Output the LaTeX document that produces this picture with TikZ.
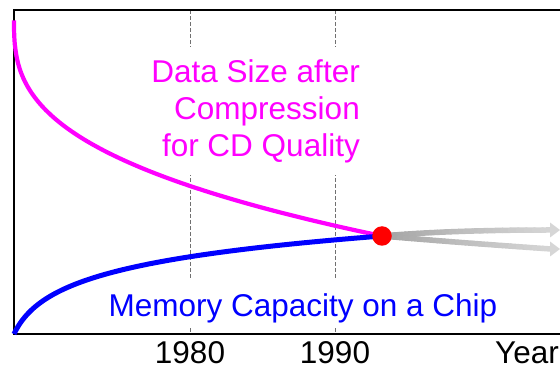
\documentclass[tikz,border=0pt]{standalone}
\usepackage{fontspec}
\setmainfont{Liberation Sans}
\definecolor{mag}{HTML}{FF00FF}
\definecolor{blu}{HTML}{0000FF}
\definecolor{dotred}{HTML}{FF0000}
\definecolor{gridgray}{HTML}{707070}
\begin{document}
\begin{tikzpicture}[x=1pt,y=-1pt,
  frame/.style={line width=2.6pt,black},
  gridline/.style={gridgray,line width=1pt,dash pattern=on 4pt off 2pt},
  lbl/.style={font=\fontsize{31.5}{37}\selectfont},
  boxlbl/.style={lbl,fill=white,inner xsep=4pt},
  magcurve/.style={mag,line width=4.2pt},
  blucurve/.style={blu,line width=5pt},
  dotstyle/.style={circle,fill=dotred,minimum size=19.5pt,inner sep=0pt}]
\useasboundingbox (0,0) rectangle (560,371);
% dashed year lines
\coordinate (g80t) at (190,10);
\coordinate (g80b) at (190,334);
\coordinate (g90t) at (335,10);
\coordinate (g90b) at (335,334);
\draw[gridline] (g80t) -- (g80b);
\draw[gridline] (g90t) -- (g90b);
% labels with white background
\node[boxlbl,text=mag,align=right,anchor=north east,inner ysep=12pt] (data) at (364,47)
  {Data Size after\\Compression\\for CD Quality};
\node[boxlbl,text=blu,anchor=base,text height=30pt,text depth=4pt,inner ysep=7pt] (mem) at (303,317)
  {Memory Capacity on a Chip};
% frame
\coordinate (tr) at (560,10);
\coordinate (tl) at (14,10);
\coordinate (bl) at (14,334);
\coordinate (br) at (560,334);
\draw[frame] (tr) -- (tl) -- (bl) -- (br);
% axis labels
\node[lbl,anchor=base,inner sep=0pt] (y80) at (190,364) {1980};
\node[lbl,anchor=base,inner sep=0pt] (y90) at (335,364) {1990};
\node[lbl,anchor=base west,inner sep=0pt] (year) at (495,364) {Year};
% curves
\draw[magcurve] plot[domain=0.002:1,samples=90,smooth] ({14+368*(\x)^2.8},{20+216*\x});
\draw[blucurve] plot[domain=0:1,samples=90,smooth] ({14+368*(exp(3.3*\x)-1)/(exp(3.3)-1)},{334-98*\x});
% grey gradient arrows
\foreach \ey/\my in {230/230, 249/242}{
  \foreach \i in {0,...,23}{
    \pgfmathsetmacro\ta{\i/24}
    \pgfmathsetmacro\tb{(\i+1)/24}
    \pgfmathsetmacro\cc{36-20*\ta}
    \draw[line width=5.5pt,draw=black!\cc,line cap=round]
      ({(1-\ta)^2*382+2*(1-\ta)*\ta*450+\ta^2*551},{(1-\ta)^2*236+2*(1-\ta)*\ta*\my+\ta^2*\ey})
      -- ({(1-\tb)^2*382+2*(1-\tb)*\tb*450+\tb^2*551},{(1-\tb)^2*236+2*(1-\tb)*\tb*\my+\tb^2*\ey});
  }
  \fill[black!16] (560,\ey) -- (550,\ey-7.5) -- (550,\ey+7.5) -- cycle;
}
\node[dotstyle] (dot) at (382,236) {};
\end{tikzpicture}
\end{document}
